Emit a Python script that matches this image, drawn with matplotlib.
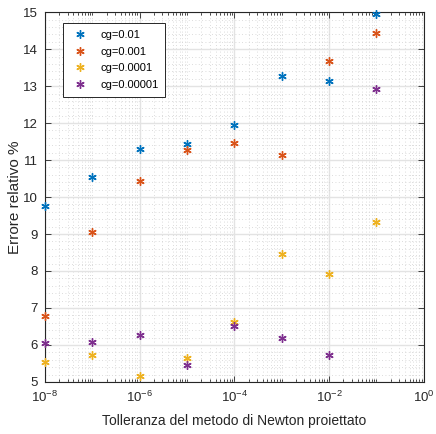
import numpy as np
import matplotlib
matplotlib.use("Agg")
import matplotlib.pyplot as plt
from matplotlib.ticker import FixedLocator, NullFormatter, LogFormatterSciNotation

plt.rcParams['font.family'] = ['Liberation Sans', 'DejaVu Sans']

# tolleranze (asse x)
toll = [1e-8, 1e-7, 1e-6, 1e-5, 1e-4, 1e-3, 1e-2, 1e-1]

# errore relativo % per ogni valore di cg
err_cg_1e2 = [9.76, 10.54, 11.30, 11.43, 11.96, 13.27, 13.13, 14.95]
err_cg_1e3 = [6.78, 9.05, 10.43, 11.27, 11.46, 11.13, 13.68, 14.43]
err_cg_1e4 = [5.55, 5.72, 5.17, 5.65, 6.62, 8.45, 7.92, 9.32]
err_cg_1e5 = [6.05, 6.07, 6.28, 5.46, 6.50, 6.20, 5.72, 12.93]

labels = ['cg=0.01', 'cg=0.001', 'cg=0.0001', 'cg=0.00001']
colors = ['#0072BD', '#D95319', '#EDB120', '#7E2F8E']

fig = plt.figure(figsize=(4.36, 4.34), dpi=100)
ax = fig.add_axes([0.103, 0.12, 0.869, 0.852])

for serie, lab, col in zip([err_cg_1e2, err_cg_1e3, err_cg_1e4, err_cg_1e5], labels, colors):
  ax.plot(toll, serie, linestyle='none', marker=(6, 2, 0), markersize=6,
          markeredgewidth=1.0, color=col, label=lab, clip_on=False, zorder=5)

ax.set_xscale('log')
ax.set_xlim(1e-8, 1e0)
ax.set_ylim(5, 15)

ax.xaxis.set_major_locator(FixedLocator([1e-8, 1e-6, 1e-4, 1e-2, 1e0]))
ax.xaxis.set_major_formatter(LogFormatterSciNotation())
minors = []
for e in range(-8, 0):
  for m in range(1, 10):
    if m == 1 and e % 2 == 0:
      continue
    minors.append(m * 10.0 ** e)
ax.xaxis.set_minor_locator(FixedLocator(minors))
ax.xaxis.set_minor_formatter(NullFormatter())

ax.set_yticks(np.arange(5, 16, 1))
ax.set_yticks(np.arange(5, 15.01, 0.2), minor=True)

ax.grid(which='major', color='#e3e3e3', linestyle='-', linewidth=1.0)
ax.grid(which='minor', color='#d0d0d0', linestyle=(0, (1, 3)), linewidth=0.6)
ax.set_axisbelow(True)

ax.tick_params(which='both', direction='in', top=True, right=True, labelsize=9.5,
               colors='#262626', width=0.6)
ax.tick_params(axis='x', which='major', length=4, pad=6)
ax.tick_params(axis='x', which='minor', length=2)
ax.tick_params(axis='y', which='major', length=4, pad=5)
ax.tick_params(axis='y', which='minor', length=0)
for s in ax.spines.values():
  s.set_color('#262626')
  s.set_linewidth(0.8)

ax.set_xlabel('Tolleranza del metodo di Newton proiettato', fontsize=10, color='#262626', labelpad=6)
ax.set_ylabel('Errore relativo %', fontsize=11, color='#262626', labelpad=1)

leg = ax.legend(loc='upper left', bbox_to_anchor=(0.047, 0.97), fontsize=8,
                frameon=True, fancybox=False, edgecolor='#262626', borderpad=0.6,
                handletextpad=0.8, labelspacing=0.6, borderaxespad=0, framealpha=1)
leg.get_frame().set_linewidth(0.7)

fig.savefig('out.png', dpi=100)
